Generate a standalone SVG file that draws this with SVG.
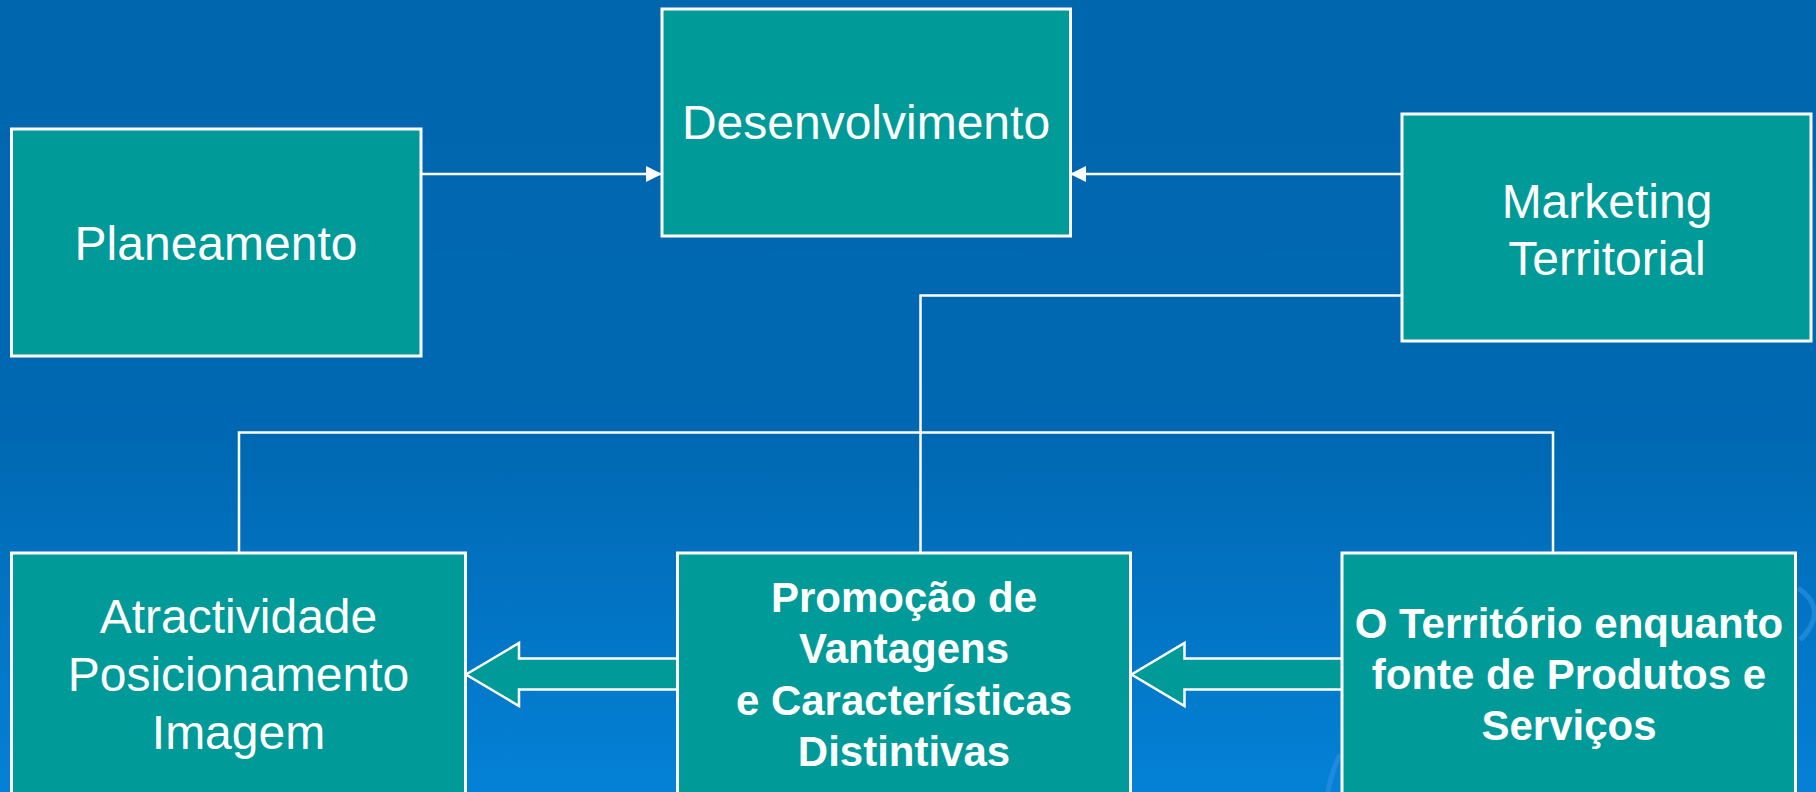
<svg xmlns="http://www.w3.org/2000/svg" width="1816" height="792" viewBox="0 0 1816 792">
<defs>
<linearGradient id="bg" x1="0" y1="0" x2="0" y2="1">
<stop offset="0" stop-color="#0066ae"/>
<stop offset="0.55" stop-color="#0068b2"/>
<stop offset="1" stop-color="#0481d6"/>
</linearGradient>
<marker id="ah" viewBox="0 0 16 16" refX="15" refY="8" markerWidth="16" markerHeight="16" markerUnits="userSpaceOnUse" orient="auto">
<path d="M0,0 L16,8 L0,16 Z" fill="#ffffff"/>
</marker>
<style>
.box{fill:#009a98;stroke:#ffffff;stroke-width:3}
.t{font-family:"Liberation Sans",Arial,sans-serif;font-size:48px;fill:#ffffff;text-anchor:middle}
.b{font-family:"Liberation Sans",Arial,sans-serif;font-size:42px;font-weight:bold;fill:#ffffff;text-anchor:middle}
.ln{fill:none;stroke:#ffffff;stroke-width:2.5}
.blk{fill:#009a98;stroke:#ffffff;stroke-width:2.5;stroke-linejoin:miter}
.deco{fill:none;stroke:#2a8fe0;stroke-width:5;opacity:0.7}
</style>
</defs>
<rect x="0" y="0" width="1816" height="792" fill="url(#bg)"/>
<path class="deco" d="M1798,588 Q1830,610 1800,640"/>
<path class="deco" d="M1328,792 Q1332,770 1340,755"/>

<g id="connectors">
<line class="ln" x1="421" y1="174" x2="661" y2="174" marker-end="url(#ah)"/>
<line class="ln" x1="1402" y1="174" x2="1071" y2="174" marker-end="url(#ah)"/>
<polyline class="ln" points="1402,295.5 920.5,295.5 920.5,553"/>
<polyline class="ln" points="239,553 239,432.5 1553,432.5 1553,553"/>
<path class="blk" d="M677,658.5 L519,658.5 L519,643 L466,674.5 L519,706 L519,689.5 L677,689.5"/>
<path class="blk" d="M1342,658.5 L1184.5,658.5 L1184.5,643 L1131.5,674.5 L1184.5,706 L1184.5,689.5 L1342,689.5"/>
</g>

<g id="planeamento">
<rect class="box" x="11.5" y="129" width="409.5" height="227"/>
<text class="t" x="216" y="260">Planeamento</text>
</g>
<g id="desenvolvimento">
<rect class="box" x="662" y="9" width="408.5" height="227"/>
<text class="t" x="866" y="139">Desenvolvimento</text>
</g>
<g id="marketing">
<rect class="box" x="1402" y="114" width="409" height="227"/>
<text class="t" x="1607" y="218">Marketing</text>
<text class="t" x="1607" y="275">Territorial</text>
</g>
<g id="atractividade">
<rect class="box" x="11.5" y="553" width="454" height="260"/>
<text class="t" x="238.5" y="633">Atractividade</text>
<text class="t" x="238.5" y="691">Posicionamento</text>
<text class="t" x="238.5" y="749">Imagem</text>
</g>
<g id="promocao">
<rect class="box" x="677.5" y="553" width="453" height="260"/>
<text class="b" x="904" y="612">Promoção de</text>
<text class="b" x="904" y="663">Vantagens</text>
<text class="b" x="904" y="715">e Características</text>
<text class="b" x="904" y="766">Distintivas</text>
</g>
<g id="territorio">
<rect class="box" x="1342" y="553" width="453.5" height="260"/>
<text class="b" x="1569" y="638">O Território enquanto</text>
<text class="b" x="1569" y="689">fonte de Produtos e</text>
<text class="b" x="1569" y="740">Serviços</text>
</g>
</svg>
